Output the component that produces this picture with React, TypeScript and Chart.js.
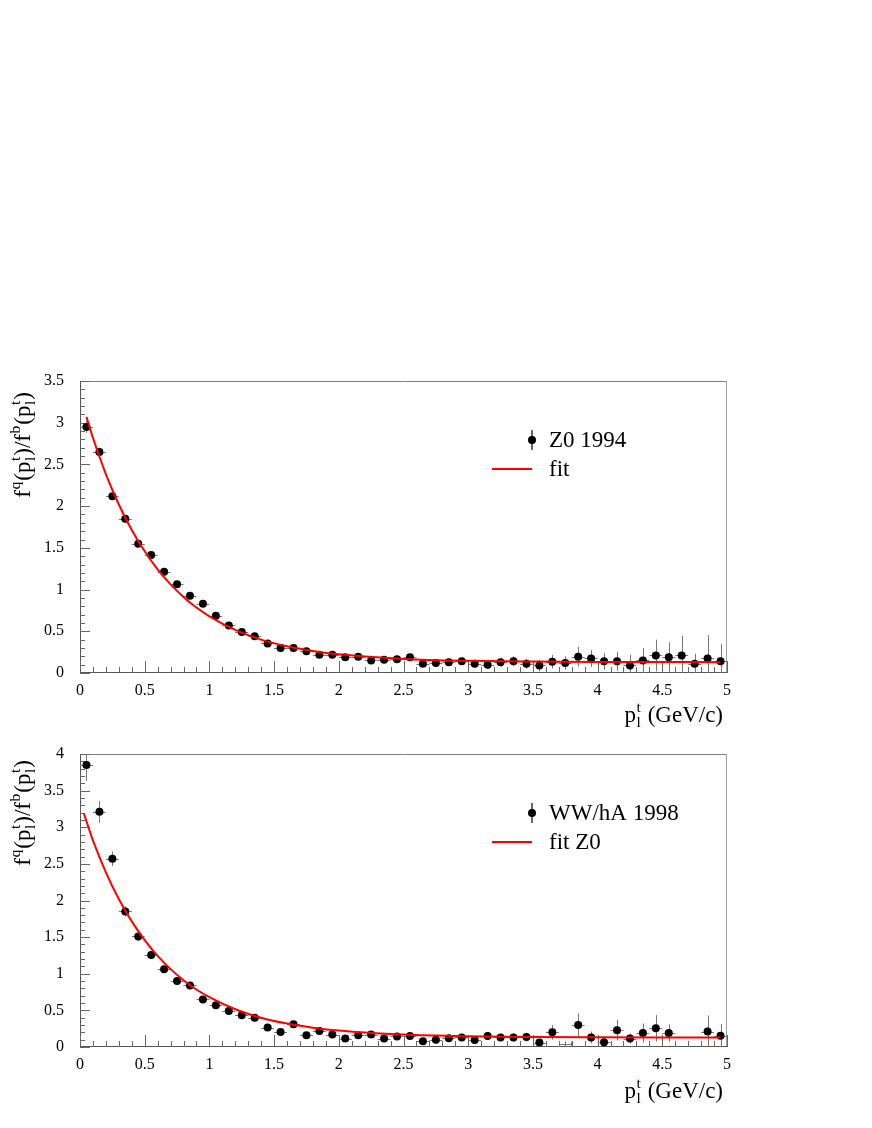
import React, { useEffect, useRef } from 'react';
import { Chart, registerables } from 'chart.js';

Chart.register(...registerables);

const FONT = '"Liberation Serif", "Times New Roman", serif';

const binCenters = [
  0.05, 0.15, 0.25, 0.35, 0.45, 0.55, 0.65, 0.75, 0.85, 0.95,
  1.05, 1.15, 1.25, 1.35, 1.45, 1.55, 1.65, 1.75, 1.85, 1.95,
  2.05, 2.15, 2.25, 2.35, 2.45, 2.55, 2.65, 2.75, 2.85, 2.95,
  3.05, 3.15, 3.25, 3.35, 3.45, 3.55, 3.65, 3.75, 3.85, 3.95,
  4.05, 4.15, 4.25, 4.35, 4.45, 4.55, 4.65, 4.75, 4.85, 4.95,
];

const z0Values = [
  2.95, 2.65, 2.12, 1.85, 1.55, 1.415, 1.215, 1.065, 0.925, 0.83,
  0.685, 0.57, 0.49, 0.44, 0.355, 0.3, 0.3, 0.26, 0.22, 0.22,
  0.19, 0.195, 0.15, 0.16, 0.165, 0.19, 0.11, 0.12, 0.13, 0.14,
  0.11, 0.1, 0.13, 0.14, 0.11, 0.09, 0.135, 0.12, 0.195, 0.175,
  0.14, 0.14, 0.09, 0.15, 0.21, 0.19, 0.21, 0.11, 0.175, 0.14,
];
const z0Errors = [
  0.07, 0.05, 0.045, 0.04, 0.035, 0.035, 0.03, 0.03, 0.03, 0.03,
  0.03, 0.03, 0.03, 0.03, 0.03, 0.03, 0.03, 0.03, 0.03, 0.03,
  0.03, 0.03, 0.03, 0.035, 0.035, 0.04, 0.04, 0.04, 0.045, 0.045,
  0.05, 0.05, 0.055, 0.06, 0.06, 0.07, 0.08, 0.08, 0.12, 0.1,
  0.1, 0.11, 0.13, 0.15, 0.19, 0.18, 0.24, 0.12, 0.28, 0.21,
];

const wwValues = [
  3.85, 3.21, 2.57, 1.85, 1.51, 1.255, 1.06, 0.9, 0.84, 0.65,
  0.57, 0.49, 0.435, 0.4, 0.265, 0.205, 0.31, 0.16, 0.22, 0.17,
  0.115, 0.16, 0.17, 0.115, 0.145, 0.15, 0.08, 0.1, 0.12, 0.13,
  0.095, 0.15, 0.13, 0.13, 0.135, 0.06, 0.2, null, 0.3, 0.13,
  0.065, 0.23, 0.115, 0.19, 0.255, 0.19, null, null, 0.21, 0.155,
];
const wwErrors = [
  0.22, 0.15, 0.1, 0.07, 0.06, 0.05, 0.045, 0.04, 0.04, 0.035,
  0.035, 0.035, 0.035, 0.035, 0.035, 0.035, 0.045, 0.035, 0.04, 0.035,
  0.035, 0.04, 0.04, 0.035, 0.04, 0.045, 0.04, 0.04, 0.045, 0.045,
  0.05, 0.055, 0.05, 0.055, 0.06, 0.05, 0.1, null, 0.16, 0.08,
  0.06, 0.14, 0.07, 0.13, 0.18, 0.12, null, null, 0.22, 0.16,
];
const wwEmptyX = [3.75];
const wwEmptyY = [0.045];

const fitTopX = [0.05, 0.1, 0.2, 0.3, 0.4, 0.5, 0.6, 0.7, 0.8, 0.9, 1.0, 1.2, 1.4, 1.6, 1.8, 2.0, 2.5, 3.0, 3.5, 4.0, 4.5, 4.95];
const fitTopY = [3.07, 2.82, 2.385, 2.02, 1.715, 1.46, 1.243, 1.063, 0.912, 0.785, 0.68, 0.516, 0.4, 0.32, 0.264, 0.224, 0.169, 0.146, 0.137, 0.133, 0.131, 0.13];
const fitBottomX = [0.03, 0.1, 0.2, 0.3, 0.4, 0.5, 0.6, 0.7, 0.8, 0.9, 1.0, 1.2, 1.4, 1.6, 1.8, 2.0, 2.5, 3.0, 3.5, 4.0, 4.5, 4.95];
const fitBottomY = [3.19, 2.82, 2.385, 2.02, 1.715, 1.46, 1.243, 1.063, 0.912, 0.785, 0.68, 0.516, 0.4, 0.32, 0.264, 0.224, 0.169, 0.146, 0.137, 0.133, 0.131, 0.13];

const xTickValues = [0, 0.5, 1, 1.5, 2, 2.5, 3, 3.5, 4, 4.5, 5];
const xTickLabels = ['0', '0.5', '1', '1.5', '2', '2.5', '3', '3.5', '4', '4.5', '5'];
const yTickValuesTop = [0, 0.5, 1, 1.5, 2, 2.5, 3, 3.5];
const yTickLabelsTop = ['0', '0.5', '1', '1.5', '2', '2.5', '3', '3.5'];
const yTickValuesBottom = [0, 0.5, 1, 1.5, 2, 2.5, 3, 3.5, 4];
const yTickLabelsBottom = ['0', '0.5', '1', '1.5', '2', '2.5', '3', '3.5', '4'];

type Seg = { t: string; s?: string; mode: 'n' | 'sup' | 'ss' };

const yTitleSegs: Seg[] = [
  { t: 'f', mode: 'n' },
  { t: 'q', mode: 'sup' },
  { t: '(p', mode: 'n' },
  { t: 't', s: 'l', mode: 'ss' },
  { t: ')/f', mode: 'n' },
  { t: 'b', mode: 'sup' },
  { t: '(p', mode: 'n' },
  { t: 't', s: 'l', mode: 'ss' },
  { t: ')', mode: 'n' },
];
const xTitleSegs: Seg[] = [
  { t: 'p', mode: 'n' },
  { t: 't', s: 'l', mode: 'ss' },
  { t: ' (GeV/c)', mode: 'n' },
];

function richWidth(ctx: CanvasRenderingContext2D, segs: Seg[], size: number) {
  let w = 0;
  for (const g of segs) {
    if (g.mode === 'n') {
      ctx.font = `${size}px ${FONT}`;
      w += ctx.measureText(g.t).width;
    } else {
      ctx.font = `${size * 0.68}px ${FONT}`;
      const a = ctx.measureText(g.t).width;
      const b = g.s ? ctx.measureText(g.s).width : 0;
      w += Math.max(a, b) + 1.5;
    }
  }
  return w;
}

function richDraw(ctx: CanvasRenderingContext2D, x: number, y: number, segs: Seg[], size: number) {
  let cx = x;
  ctx.textAlign = 'left';
  ctx.textBaseline = 'alphabetic';
  ctx.fillStyle = '#000';
  for (const g of segs) {
    if (g.mode === 'n') {
      ctx.font = `${size}px ${FONT}`;
      ctx.fillText(g.t, cx, y);
      cx += ctx.measureText(g.t).width;
    } else {
      ctx.font = `${size * 0.68}px ${FONT}`;
      const a = ctx.measureText(g.t).width;
      const b = g.s ? ctx.measureText(g.s).width : 0;
      ctx.fillText(g.t, cx + 0.5, y - size * 0.42);
      if (g.s) ctx.fillText(g.s, cx + 0.5, y + size * 0.2);
      cx += Math.max(a, b) + 1.5;
    }
  }
}

type PanelCfg = {
  values: (number | null)[];
  errors: (number | null)[];
  fitX: number[];
  fitY: number[];
  yMax: number;
  yTicks: number[];
  yLabels: string[];
  dataLabel: string;
  fitLabel: string;
  emptyX?: number[];
  emptyY?: number[];
  padTop: number;
  xAxisHeight: number;
  xTitleBaseline: number;
  yTitleEnd: number;
};

function makeChart(canvas: HTMLCanvasElement, cfg: PanelCfg) {
  const points = binCenters
    .map((x, i) => ({ x, y: cfg.values[i] as number, e: cfg.errors[i] as number }))
    .filter((p) => p.y !== null && p.y !== undefined);
  const fit = cfg.fitX.map((x, i) => ({ x, y: cfg.fitY[i] }));

  const decor = {
    id: 'decor',
    beforeDatasetsDraw(chart: any) {
      const ctx = chart.ctx as CanvasRenderingContext2D;
      const a = chart.chartArea;
      const xs = chart.scales.x;
      const ys = chart.scales.y;
      ctx.save();
      ctx.lineWidth = 1;
      ctx.strokeStyle = '#808080';
      ctx.beginPath();
      ctx.moveTo(a.left, a.top + 0.5);
      ctx.lineTo(a.right, a.top + 0.5);
      ctx.stroke();
      ctx.strokeStyle = '#a0a0a0';
      ctx.beginPath();
      ctx.moveTo(a.right - 0.5, a.top);
      ctx.lineTo(a.right - 0.5, a.bottom);
      ctx.stroke();
      ctx.strokeStyle = '#555';
      ctx.beginPath();
      ctx.moveTo(a.left + 0.5, a.top);
      ctx.lineTo(a.left + 0.5, a.bottom);
      ctx.moveTo(a.left, a.bottom - 0.5);
      ctx.lineTo(a.right, a.bottom - 0.5);
      ctx.stroke();
      ctx.strokeStyle = '#666';
      ctx.beginPath();
      for (let k = 0; k <= 50; k++) {
        const v = k / 10;
        const px = Math.round(xs.getPixelForValue(v)) + 0.5;
        const len = k % 5 === 0 ? 12 : 6;
        ctx.moveTo(px, a.bottom);
        ctx.lineTo(px, a.bottom - len);
      }
      const nY = Math.round(cfg.yMax * 10);
      for (let k = 0; k <= nY; k++) {
        const v = k / 10;
        const py = Math.round(ys.getPixelForValue(v)) + 0.5;
        const len = k % 5 === 0 ? 10 : 5;
        ctx.moveTo(a.left, py);
        ctx.lineTo(a.left + len, py);
      }
      ctx.stroke();
      ctx.save();
      ctx.beginPath();
      ctx.rect(a.left, a.top, a.right - a.left, a.bottom - a.top);
      ctx.clip();
      ctx.strokeStyle = '#777';
      ctx.lineWidth = 1;
      ctx.beginPath();
      for (const p of points) {
        const px = Math.round(xs.getPixelForValue(p.x)) + 0.5;
        const py = Math.round(ys.getPixelForValue(p.y)) + 0.5;
        ctx.moveTo(px, ys.getPixelForValue(p.y + p.e));
        ctx.lineTo(px, ys.getPixelForValue(p.y - p.e));
        ctx.moveTo(xs.getPixelForValue(p.x - 0.05), py);
        ctx.lineTo(xs.getPixelForValue(p.x + 0.05), py);
      }
      if (cfg.emptyX && cfg.emptyY) {
        cfg.emptyX.forEach((ex, i) => {
          const py = Math.round(ys.getPixelForValue(cfg.emptyY![i])) + 0.5;
          const x1 = xs.getPixelForValue(ex - 0.05);
          const x2 = xs.getPixelForValue(ex + 0.05);
          ctx.moveTo(x1, py);
          ctx.lineTo(x2, py);
          ctx.moveTo(Math.round(x1) + 0.5, py - 3);
          ctx.lineTo(Math.round(x1) + 0.5, py + 3);
          ctx.moveTo(Math.round(x2) - 0.5, py - 3);
          ctx.lineTo(Math.round(x2) - 0.5, py + 3);
          const mx = Math.round(xs.getPixelForValue(ex)) + 0.5;
          ctx.moveTo(mx, py - 3);
          ctx.lineTo(mx, py + 3);
        });
      }
      ctx.stroke();
      ctx.restore();
      ctx.restore();
    },
    afterDraw(chart: any) {
      const ctx = chart.ctx as CanvasRenderingContext2D;
      const a = chart.chartArea;
      ctx.save();
      const lx = a.left + 452;
      const ly = a.top + 59;
      ctx.strokeStyle = '#000';
      ctx.lineWidth = 1.2;
      ctx.beginPath();
      ctx.moveTo(lx, ly - 10);
      ctx.lineTo(lx, ly + 10);
      ctx.stroke();
      ctx.fillStyle = '#000';
      ctx.beginPath();
      ctx.arc(lx, ly, 4, 0, Math.PI * 2);
      ctx.fill();
      ctx.font = `23px ${FONT}`;
      ctx.textAlign = 'left';
      ctx.textBaseline = 'alphabetic';
      ctx.fillText(cfg.dataLabel, lx + 17, ly + 7);
      ctx.strokeStyle = '#ff0000';
      ctx.lineWidth = 2;
      ctx.beginPath();
      ctx.moveTo(lx - 40, ly + 29);
      ctx.lineTo(lx, ly + 29);
      ctx.stroke();
      ctx.fillText(cfg.fitLabel, lx + 17, ly + 36);
      const w = richWidth(ctx, xTitleSegs, 23);
      richDraw(ctx, a.right - 4 - w, a.bottom + cfg.xTitleBaseline, xTitleSegs, 23);
      const wy = richWidth(ctx, yTitleSegs, 23);
      ctx.translate(30, a.top + cfg.yTitleEnd);
      ctx.rotate(-Math.PI / 2);
      richDraw(ctx, -wy, 0, yTitleSegs, 23);
      ctx.restore();
    },
  };

  return new Chart(canvas, {
    type: 'scatter',
    data: {
      datasets: [
        {
          label: cfg.dataLabel,
          data: points.map((p) => ({ x: p.x, y: p.y })),
          backgroundColor: '#000',
          borderColor: '#000',
          pointRadius: 4,
          pointHoverRadius: 4,
          borderWidth: 0,
          showLine: false,
          order: 1,
        },
        {
          label: cfg.fitLabel,
          data: fit,
          borderColor: '#ff0000',
          backgroundColor: '#ff0000',
          borderWidth: 2,
          pointRadius: 0,
          showLine: true,
          cubicInterpolationMode: 'monotone',
          order: 0,
        },
      ],
    },
    options: {
      animation: false,
      responsive: false,
      events: [],
      layout: { padding: { top: cfg.padTop, right: 133, left: 0, bottom: 0 } },
      plugins: { legend: { display: false }, tooltip: { enabled: false }, title: { display: false } },
      scales: {
        x: {
          type: 'linear',
          min: 0,
          max: 5,
          grid: { display: false, drawTicks: false },
          border: { display: false },
          afterBuildTicks: (s: any) => {
            s.ticks = xTickValues.map((v) => ({ value: v }));
          },
          afterFit: (s: any) => {
            s.height = cfg.xAxisHeight;
          },
          ticks: {
            padding: 8,
            maxRotation: 0,
            autoSkip: false,
            color: '#000',
            font: { family: FONT, size: 16 },
            callback: (v: any) => {
              const i = xTickValues.indexOf(Number(v));
              return i >= 0 ? xTickLabels[i] : '';
            },
          },
        },
        y: {
          type: 'linear',
          min: 0,
          max: cfg.yMax,
          grid: { display: false, drawTicks: false },
          border: { display: false },
          afterBuildTicks: (s: any) => {
            s.ticks = cfg.yTicks.map((v) => ({ value: v }));
          },
          afterFit: (s: any) => {
            s.width = 80;
          },
          ticks: {
            padding: 16,
            autoSkip: false,
            color: '#000',
            font: { family: FONT, size: 16 },
            callback: (v: any) => {
              const i = cfg.yTicks.indexOf(Number(v));
              return i >= 0 ? cfg.yLabels[i] : '';
            },
          },
        },
      },
    },
    plugins: [decor],
  } as any);
}

function Panel({ top, cfg }: { top: number; cfg: PanelCfg }) {
  const ref = useRef<HTMLCanvasElement | null>(null);
  useEffect(() => {
    if (!ref.current) return;
    const c = makeChart(ref.current, cfg);
    return () => c.destroy();
  }, []);
  return (
    <canvas
      ref={ref}
      width={860}
      height={400}
      style={{ position: 'absolute', left: 0, top, width: 860, height: 400 }}
    />
  );
}

export default function App() {
  const topCfg: PanelCfg = {
    values: z0Values,
    errors: z0Errors,
    fitX: fitTopX,
    fitY: fitTopY,
    yMax: 3.5,
    yTicks: yTickValuesTop,
    yLabels: yTickLabelsTop,
    dataLabel: 'Z0 1994',
    fitLabel: 'fit',
    padTop: 41,
    xAxisHeight: 67,
    xTitleBaseline: 49,
    yTitleEnd: 11,
  };
  const bottomCfg: PanelCfg = {
    values: wwValues,
    errors: wwErrors,
    fitX: fitBottomX,
    fitY: fitBottomY,
    yMax: 4,
    yTicks: yTickValuesBottom,
    yLabels: yTickLabelsBottom,
    dataLabel: 'WW/hA 1998',
    fitLabel: 'fit Z0',
    emptyX: wwEmptyX,
    emptyY: wwEmptyY,
    padTop: 34,
    xAxisHeight: 73,
    xTitleBaseline: 51,
    yTitleEnd: 6,
  };
  return (
    <div style={{ position: 'absolute', left: 0, top: 0, width: 860, height: 1120, background: '#fff' }}>
      <Panel top={340} cfg={topCfg} />
      <Panel top={720} cfg={bottomCfg} />
    </div>
  );
}
